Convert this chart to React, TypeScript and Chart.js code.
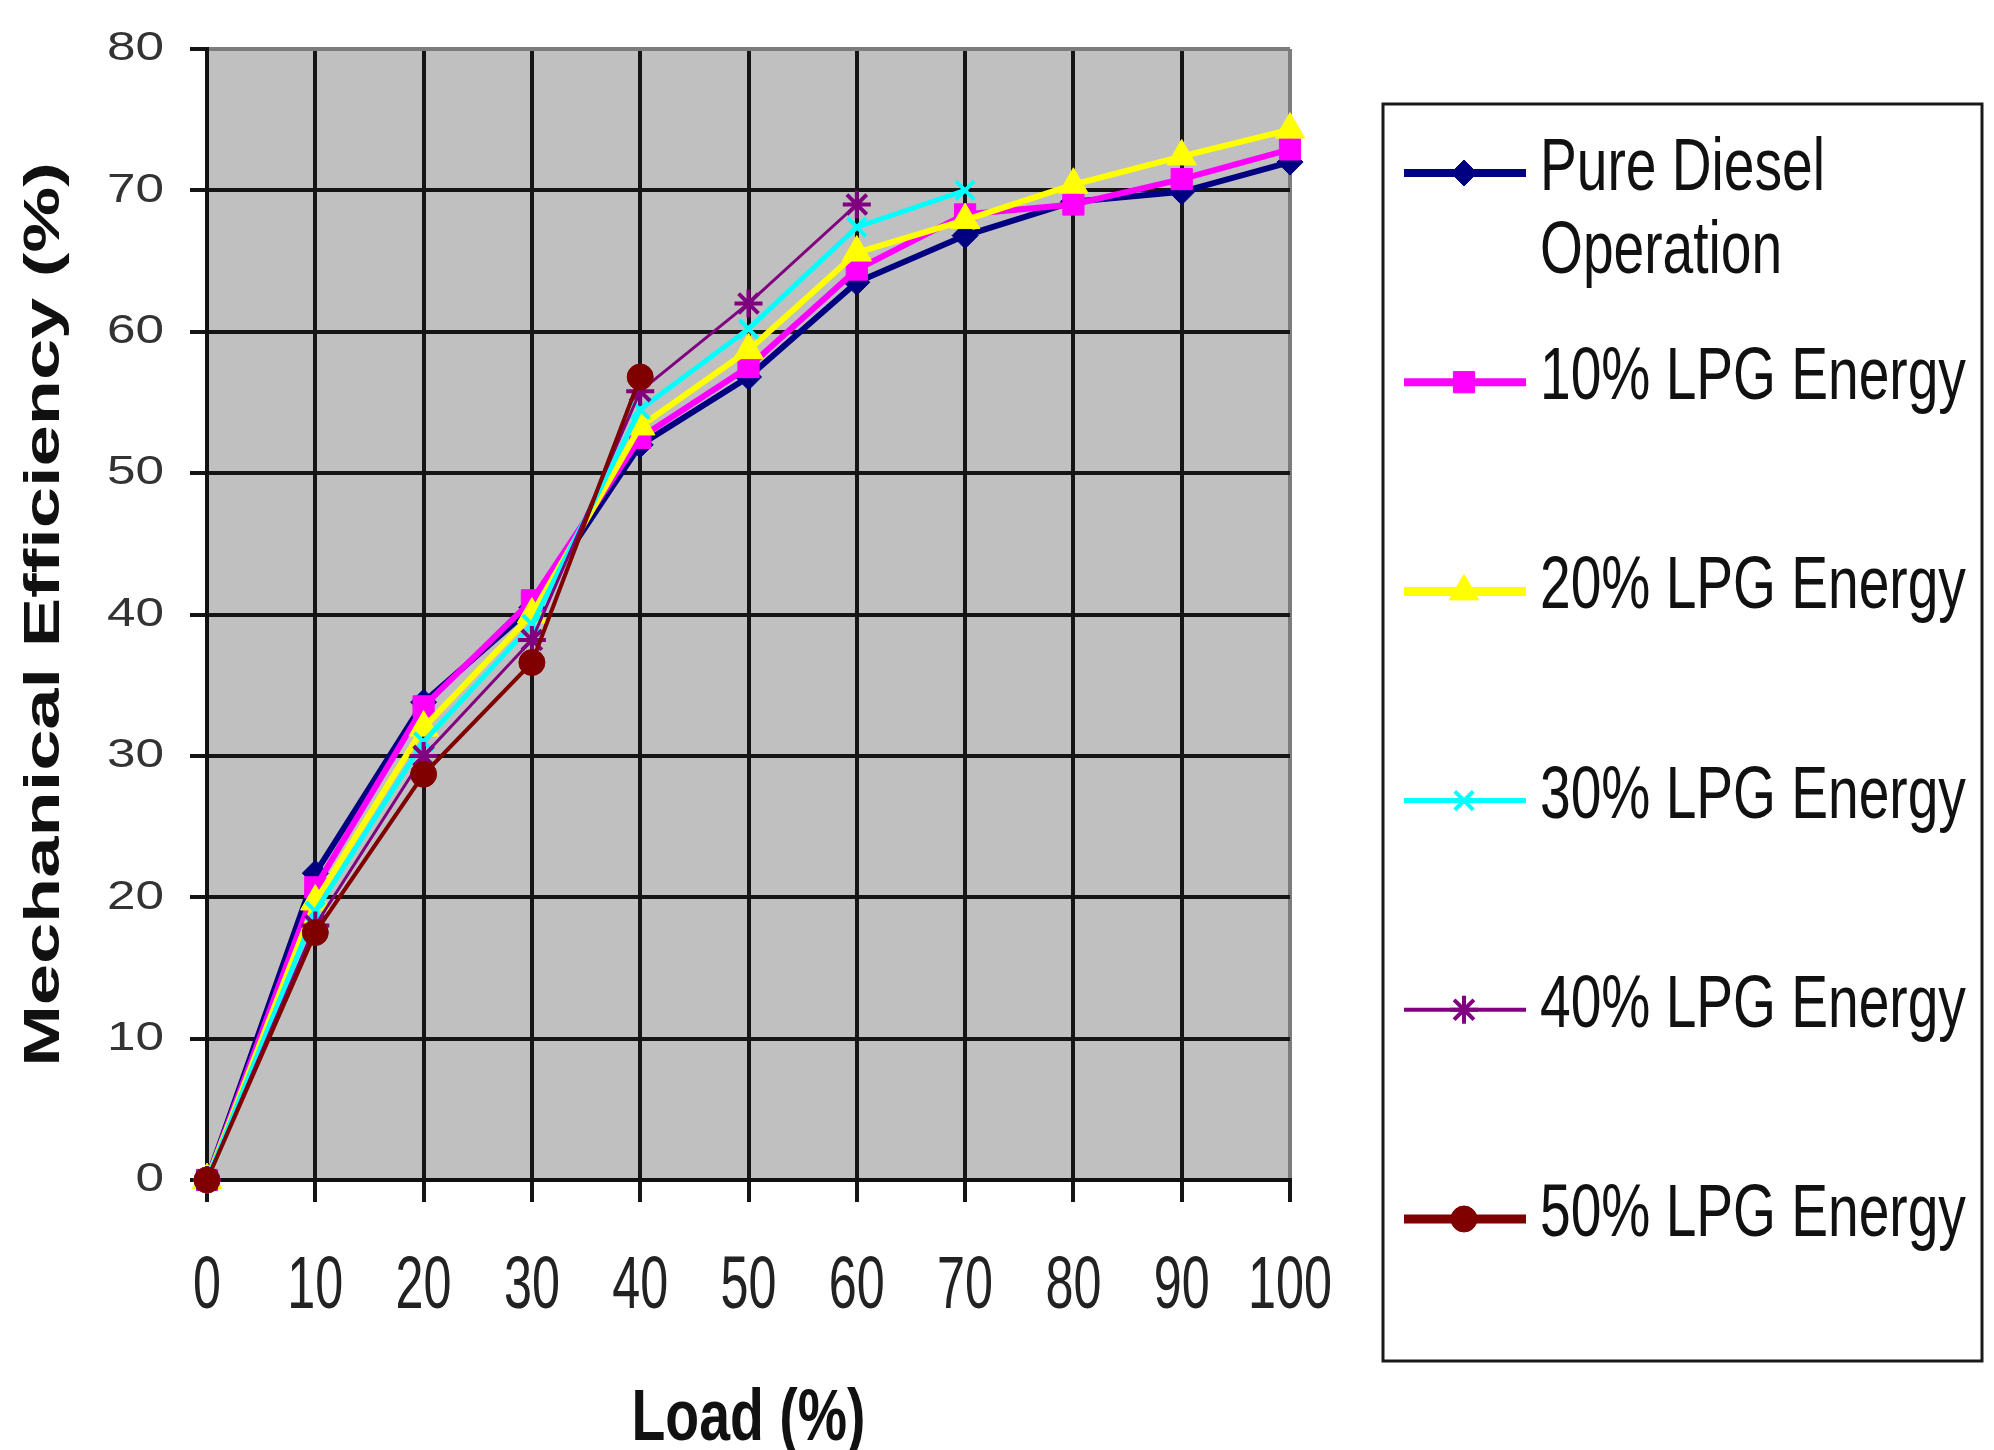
import React, { useEffect, useRef } from 'react';
import { Chart, registerables } from 'chart.js';
import { drawPoint } from 'chart.js/helpers';

Chart.register(...registerables);

// Engine load (%) on the x axis
const loadPct = [0, 10, 20, 30, 40, 50, 60, 70, 80, 90, 100];

// Mechanical efficiency (%) for each fuelling mode
const pureDiesel = [0, 21.7, 33.8, 40.5, 52.0, 56.8, 63.5, 66.8, 69.2, 69.9, 72.0];
const lpg10 = [0, 20.7, 33.5, 41.0, 52.5, 57.5, 64.4, 68.3, 69.0, 70.8, 72.9];
const lpg20 = [0, 19.7, 32.0, 40.0, 53.3, 58.7, 65.6, 67.9, 70.4, 72.4, 74.3];
const lpg30 = [0, 19.0, 31.0, 39.3, 54.5, 60.2, 67.4, 70.0];
const lpg40 = [0, 18.0, 30.0, 38.2, 55.8, 62.0, 69.0];
const lpg50 = [0, 17.5, 28.7, 36.6, 56.8];

const seriesNames = [
  'Pure Diesel Operation',
  '10% LPG Energy',
  '20% LPG Energy',
  '30% LPG Energy',
  '40% LPG Energy',
  '50% LPG Energy',
];

const yTicks = [0, 10, 20, 30, 40, 50, 60, 70, 80];
const xTicks = [0, 10, 20, 30, 40, 50, 60, 70, 80, 90, 100];

const xTitle = 'Load (%)';
const yTitle = 'Mechanical Efficiency (%)';

// Series appearance
const seriesColors = ['#000080', '#FF00FF', '#FFFF00', '#00FFFF', '#800080', '#800000'];
const seriesMarkers = ['rectRot', 'rect', 'triangle', 'crossRot', 'star', 'circle'];
const markerRadius = [13, 15, 17, 13, 14, 13];
const lineWidths = [6, 6, 6, 5, 3, 4];
const legendLineWidths = [8, 8, 9, 5, 4, 9];

const FONT = '"Liberation Sans", Arial, Helvetica, sans-serif';

function stretchText(
  ctx: CanvasRenderingContext2D,
  text: string,
  x: number,
  y: number,
  font: string,
  sx: number,
  align: CanvasTextAlign,
  baseline: CanvasTextBaseline,
  color: string
) {
  ctx.save();
  ctx.translate(x, y);
  ctx.scale(sx, 1);
  ctx.font = font;
  ctx.textAlign = align;
  ctx.textBaseline = baseline;
  ctx.fillStyle = color;
  ctx.fillText(text, 0, 0);
  ctx.restore();
}

const plotBackground = {
  id: 'plotBackground',
  beforeDraw(chart: any) {
    const { ctx, chartArea } = chart;
    ctx.save();
    ctx.fillStyle = '#ffffff';
    ctx.fillRect(0, 0, chart.width, chart.height);
    ctx.fillStyle = '#C0C0C0';
    ctx.fillRect(chartArea.left, chartArea.top, chartArea.right - chartArea.left, chartArea.bottom - chartArea.top);
    ctx.restore();
  },
};

const axisText = {
  id: 'axisText',
  afterDraw(chart: any) {
    const { ctx, chartArea, scales } = chart;
    const xs = scales.x;
    const ys = scales.y;

    for (const v of yTicks) {
      stretchText(ctx, String(v), 164, ys.getPixelForValue(v), `41px ${FONT}`, 1.25, 'right', 'middle', '#333');
    }
    for (const v of xTicks) {
      stretchText(ctx, String(v), xs.getPixelForValue(v), 1308, `74px ${FONT}`, 0.68, 'center', 'alphabetic', '#222');
    }

    stretchText(ctx, xTitle, (chartArea.left + chartArea.right) / 2, 1440, `bold 72px ${FONT}`, 0.77, 'center', 'alphabetic', '#111');

    ctx.save();
    ctx.translate(59, (chartArea.top + chartArea.bottom) / 2);
    ctx.rotate(-Math.PI / 2);
    ctx.scale(1.48, 1);
    ctx.font = `bold 50px ${FONT}`;
    ctx.textAlign = 'center';
    ctx.textBaseline = 'alphabetic';
    ctx.fillStyle = '#111';
    ctx.fillText(yTitle, 0, 0);
    ctx.restore();
  },
};

// Boxed legend on the right, entries evenly spaced, long names wrapped
const sideLegend = {
  id: 'sideLegend',
  afterDraw(chart: any) {
    const { ctx } = chart;
    const box = { left: 1383, top: 104, right: 1982, bottom: 1361 };
    ctx.save();
    ctx.fillStyle = '#ffffff';
    ctx.fillRect(box.left, box.top, box.right - box.left, box.bottom - box.top);
    ctx.strokeStyle = '#1a1a1a';
    ctx.lineWidth = 3;
    ctx.strokeRect(box.left, box.top, box.right - box.left, box.bottom - box.top);

    const sx = 0.735;
    const font = `75px ${FONT}`;
    const maxWidth = 430;
    const lineGap = 83;
    chart.data.datasets.forEach((ds: any, i: number) => {
      const baseline = 190 + i * 209.2;
      const sampleY = baseline - 17;
      ctx.save();
      ctx.strokeStyle = ds.borderColor;
      ctx.lineWidth = legendLineWidths[i];
      ctx.beginPath();
      ctx.moveTo(1404, sampleY);
      ctx.lineTo(1526, sampleY);
      ctx.stroke();
      ctx.fillStyle = ds.pointBackgroundColor;
      ctx.strokeStyle = ds.pointBorderColor;
      ctx.lineWidth = ds.pointBorderWidth;
      drawPoint(ctx, { pointStyle: ds.pointStyle, radius: ds.pointRadius, rotation: 0, borderWidth: ds.pointBorderWidth }, 1464, sampleY);
      ctx.restore();

      ctx.font = font;
      const words = String(ds.label).split(' ');
      const lines: string[] = [];
      let cur = '';
      for (const w of words) {
        const test = cur ? cur + ' ' + w : w;
        if (ctx.measureText(test).width * sx > maxWidth && cur) {
          lines.push(cur);
          cur = w;
        } else {
          cur = test;
        }
      }
      if (cur) lines.push(cur);
      lines.forEach((ln, k) => {
        stretchText(ctx, ln, 1540, baseline + k * lineGap, font, sx, 'left', 'alphabetic', '#111');
      });
    });
    ctx.restore();
  },
};

export default function App() {
  const canvasRef = useRef<HTMLCanvasElement | null>(null);

  useEffect(() => {
    const canvas = canvasRef.current;
    if (!canvas) return;
    const values = [pureDiesel, lpg10, lpg20, lpg30, lpg40, lpg50];
    const datasets = values.map((arr, i) => ({
      label: seriesNames[i],
      data: arr.map((v, k) => ({ x: loadPct[k], y: v })),
      borderColor: seriesColors[i],
      backgroundColor: seriesColors[i],
      borderWidth: lineWidths[i],
      pointStyle: seriesMarkers[i],
      pointRadius: markerRadius[i],
      pointBackgroundColor: seriesColors[i],
      pointBorderColor: seriesColors[i],
      pointBorderWidth: seriesMarkers[i] === 'crossRot' || seriesMarkers[i] === 'star' ? 4 : 1,
      tension: 0,
      clip: false as any,
      order: values.length - i,
    }));

    const chart = new Chart(canvas, {
      type: 'line',
      data: { datasets },
      options: {
        responsive: false,
        animation: false,
        devicePixelRatio: 1,
        events: [],
        layout: { padding: { top: 49, right: 704, left: 0, bottom: 0 } },
        plugins: { legend: { display: false }, tooltip: { enabled: false } },
        scales: {
          x: {
            type: 'linear',
            min: 0,
            max: 100,
            afterBuildTicks: (scale: any) => {
              scale.ticks = xTicks.map((v) => ({ value: v }));
            },
            afterFit: (scale: any) => {
              scale.height = 270;
            },
            ticks: { display: false },
            grid: {
              color: (c: any) => (c.tick && c.tick.value === 100 ? '#7c7c7c' : '#151515'),
              lineWidth: 4,
              tickColor: '#151515',
              tickLength: 22,
              drawTicks: true,
            },
            border: { display: true, color: '#111', width: 4 },
          },
          y: {
            type: 'linear',
            min: 0,
            max: 80,
            afterBuildTicks: (scale: any) => {
              scale.ticks = yTicks.map((v) => ({ value: v }));
            },
            afterFit: (scale: any) => {
              scale.width = 207;
            },
            ticks: { display: false },
            grid: {
              color: (c: any) => (c.tick && c.tick.value === 80 ? '#7c7c7c' : '#151515'),
              lineWidth: 4,
              tickColor: '#151515',
              tickLength: 17,
              drawTicks: true,
            },
            border: { display: true, color: '#111', width: 4 },
          },
        },
      },
      plugins: [plotBackground, axisText, sideLegend],
    });
    return () => chart.destroy();
  }, []);

  return (
    <div style={{ position: 'absolute', left: 0, top: 0, width: 1994, height: 1450, background: '#fff' }}>
      <canvas ref={canvasRef} width={1994} height={1450} style={{ display: 'block' }} />
    </div>
  );
}
